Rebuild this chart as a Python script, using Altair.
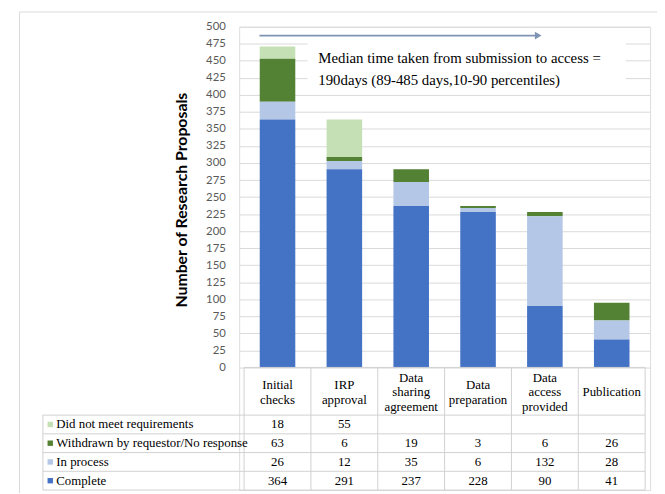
import altair as alt
import pandas as pd

# ---------------- data ----------------
categories = ["Initial checks", "IRP approval", "Data sharing agreement",
              "Data preparation", "Data access provided", "Publication"]
header_labels = ["Initial\nchecks", "IRP\napproval", "Data\nsharing\nagreement",
                 "Data\npreparation", "Data\naccess\nprovided", "Publication"]
series = ["Did not meet requirements", "Withdrawn by requestor/No response",
          "In process", "Complete"]
did_not_meet = [18, 55, None, None, None, None]
withdrawn = [63, 6, 19, 3, 6, 26]
in_process = [26, 12, 35, 6, 132, 28]
complete = [364, 291, 237, 228, 90, 41]
colors = ["#C5E0B4", "#548235", "#B4C7E7", "#4472C4"]
y_ticks = list(range(0, 501, 25))
note_lines = ["Median time taken from submission to access =",
              "190days (89-485 days,10-90 percentiles)"]
y_title = "Number of Research Proposals"

# ---------------- layout constants ----------------
HEADER_BOTTOM = -70
ROW_H = 27.5
LINE_H = 21.5          # header line spacing in data units (~15px)
LABEL_X = -3.01
GRID = "#D9D9D9"
SERIF = "Liberation Serif"

values_by_series = {
    series[0]: did_not_meet,
    series[1]: withdrawn,
    series[2]: in_process,
    series[3]: complete,
}
stack_order = {series[3]: 0, series[2]: 1, series[1]: 2, series[0]: 3}

rows = []
for s, vals in values_by_series.items():
    for i, v in enumerate(vals):
        if v is None:
            continue
        rows.append({"x": i + 0.5, "category": categories[i], "series": s,
                     "value": v, "order": stack_order[s]})
bars_df = pd.DataFrame(rows)

xs = alt.Scale(domain=[0, 6], nice=False, zero=False)
ys = alt.Scale(domain=[-180, 500], nice=False, zero=False)
cscale = alt.Scale(domain=series, range=colors)

yaxis = alt.Axis(values=y_ticks, grid=True, gridColor=GRID, gridWidth=1,
                 domain=False, ticks=False, labelPadding=14, labelOverlap=False,
                 labelFont="Lato", labelFontSize=11.5, labelColor="#595959",
                 title=y_title, titleFont="Lato", titleFontSize=16,
                 titleFontWeight="bold", titleColor="#000000",
                 titleX=-58, titleY=175, titleAngle=270,
                 titleBaseline="middle", titleAlign="center")


def X(field):
    return alt.X(field, scale=xs, axis=None)


def Y(field):
    return alt.Y(field, scale=ys, axis=None)


# outer frame
frame_df = pd.DataFrame([{"x": -3.36, "x2": 6.4, "y": 521.7, "y2": -210}])
frame = alt.Chart(frame_df).mark_rect(filled=False, stroke=GRID, strokeWidth=1).encode(
    x=X("x:Q"), x2="x2:Q", y=Y("y:Q"), y2="y2:Q")

bars = alt.Chart(bars_df).mark_bar(size=36).encode(
    x=X("x:Q"),
    y=alt.Y("value:Q", stack="zero", scale=ys, axis=yaxis),
    color=alt.Color("series:N", scale=cscale, legend=None),
    order=alt.Order("order:Q"),
)

# white box behind note text
box_df = pd.DataFrame([{"x": 0.95, "x2": 5.71, "y": 404, "y2": 477}])
box = alt.Chart(box_df).mark_rect(fill="white").encode(
    x=X("x:Q"), x2="x2:Q", y=Y("y:Q"), y2="y2:Q")

arrow_df = pd.DataFrame([{"x": 0.23, "x2": 4.40, "y": 487}])
arrow_line = alt.Chart(arrow_df).mark_rule(color="#7F93B5", strokeWidth=1.6).encode(
    x=X("x:Q"), x2="x2:Q", y=Y("y:Q"))
arrow_head = alt.Chart(arrow_df).mark_point(shape="triangle-right", filled=True,
                                            color="#7F93B5", size=60, opacity=1).encode(
    x=X("x2:Q"), y=Y("y:Q"))

note_df = pd.DataFrame([{"x": 1.11, "y": 453.6, "t": note_lines[0]},
                        {"x": 1.11, "y": 421.7, "t": note_lines[1]}])
note = alt.Chart(note_df).mark_text(align="left", baseline="middle", font=SERIF,
                                    fontSize=15, color="#000000").encode(
    x=X("x:Q"), y=Y("y:Q"), text="t:N")

# table grid lines
row_bounds = [HEADER_BOTTOM - ROW_H * k for k in range(5)]
lines = [{"x": 0, "x2": 6, "y": 0, "y2": 0}]
for b in row_bounds:
    lines.append({"x": LABEL_X, "x2": 6, "y": b, "y2": b})
lines.append({"x": LABEL_X, "x2": LABEL_X, "y": HEADER_BOTTOM, "y2": row_bounds[-1]})
for c in range(7):
    lines.append({"x": c, "x2": c, "y": 0, "y2": row_bounds[-1]})
lines_df = pd.DataFrame(lines)
table_lines = alt.Chart(lines_df).mark_rule(color="#D0D0D0", strokeWidth=1).encode(
    x=X("x:Q"), x2="x2:Q", y=Y("y:Q"), y2="y2:Q")

header_rows = []
for i, h in enumerate(header_labels):
    parts = h.split("\n")
    n = len(parts)
    for k, p in enumerate(parts):
        header_rows.append({"x": i + 0.5,
                            "y": HEADER_BOTTOM / 2 - 1.5 - (k - (n - 1) / 2) * LINE_H,
                            "t": p})
header_df = pd.DataFrame(header_rows)
header = alt.Chart(header_df).mark_text(align="center", baseline="middle", font=SERIF,
                                        fontSize=13, color="#000000").encode(
    x=X("x:Q"), y=Y("y:Q"), text="t:N")

cell_rows = []
label_rows = []
for r, s in enumerate(series):
    yc = HEADER_BOTTOM - ROW_H * (r + 0.5)
    label_rows.append({"x": -2.81, "xs": -2.90, "y": yc, "t": s, "series": s})
    for i, v in enumerate(values_by_series[s]):
        if v is None:
            continue
        cell_rows.append({"x": i + 0.5, "y": yc, "t": str(v)})
cells_df = pd.DataFrame(cell_rows)
labels_df = pd.DataFrame(label_rows)

cells = alt.Chart(cells_df).mark_text(align="center", baseline="middle", font=SERIF,
                                      fontSize=13, color="#000000").encode(
    x=X("x:Q"), y=Y("y:Q"), text="t:N")
row_labels = alt.Chart(labels_df).mark_text(align="left", baseline="middle", font=SERIF,
                                            fontSize=13, color="#000000").encode(
    x=X("x:Q"), y=Y("y:Q"), text="t:N")
swatches = alt.Chart(labels_df).mark_square(size=30, opacity=1).encode(
    x=X("xs:Q"), y=Y("y:Q"),
    color=alt.Color("series:N", scale=cscale, legend=None))

chart = alt.layer(frame, bars, box, arrow_line, arrow_head, note, table_lines,
                  header, cells, row_labels, swatches).resolve_axis(
    y="independent", x="independent").properties(
    width=416, height=469,
    autosize=alt.AutoSizeParams(type="none"),
    padding={"left": 234, "top": 16, "right": 7, "bottom": 0},
).configure_view(stroke=None).configure(background="white")

chart.save("out.html", embed_options={"renderer": "svg", "actions": False})
